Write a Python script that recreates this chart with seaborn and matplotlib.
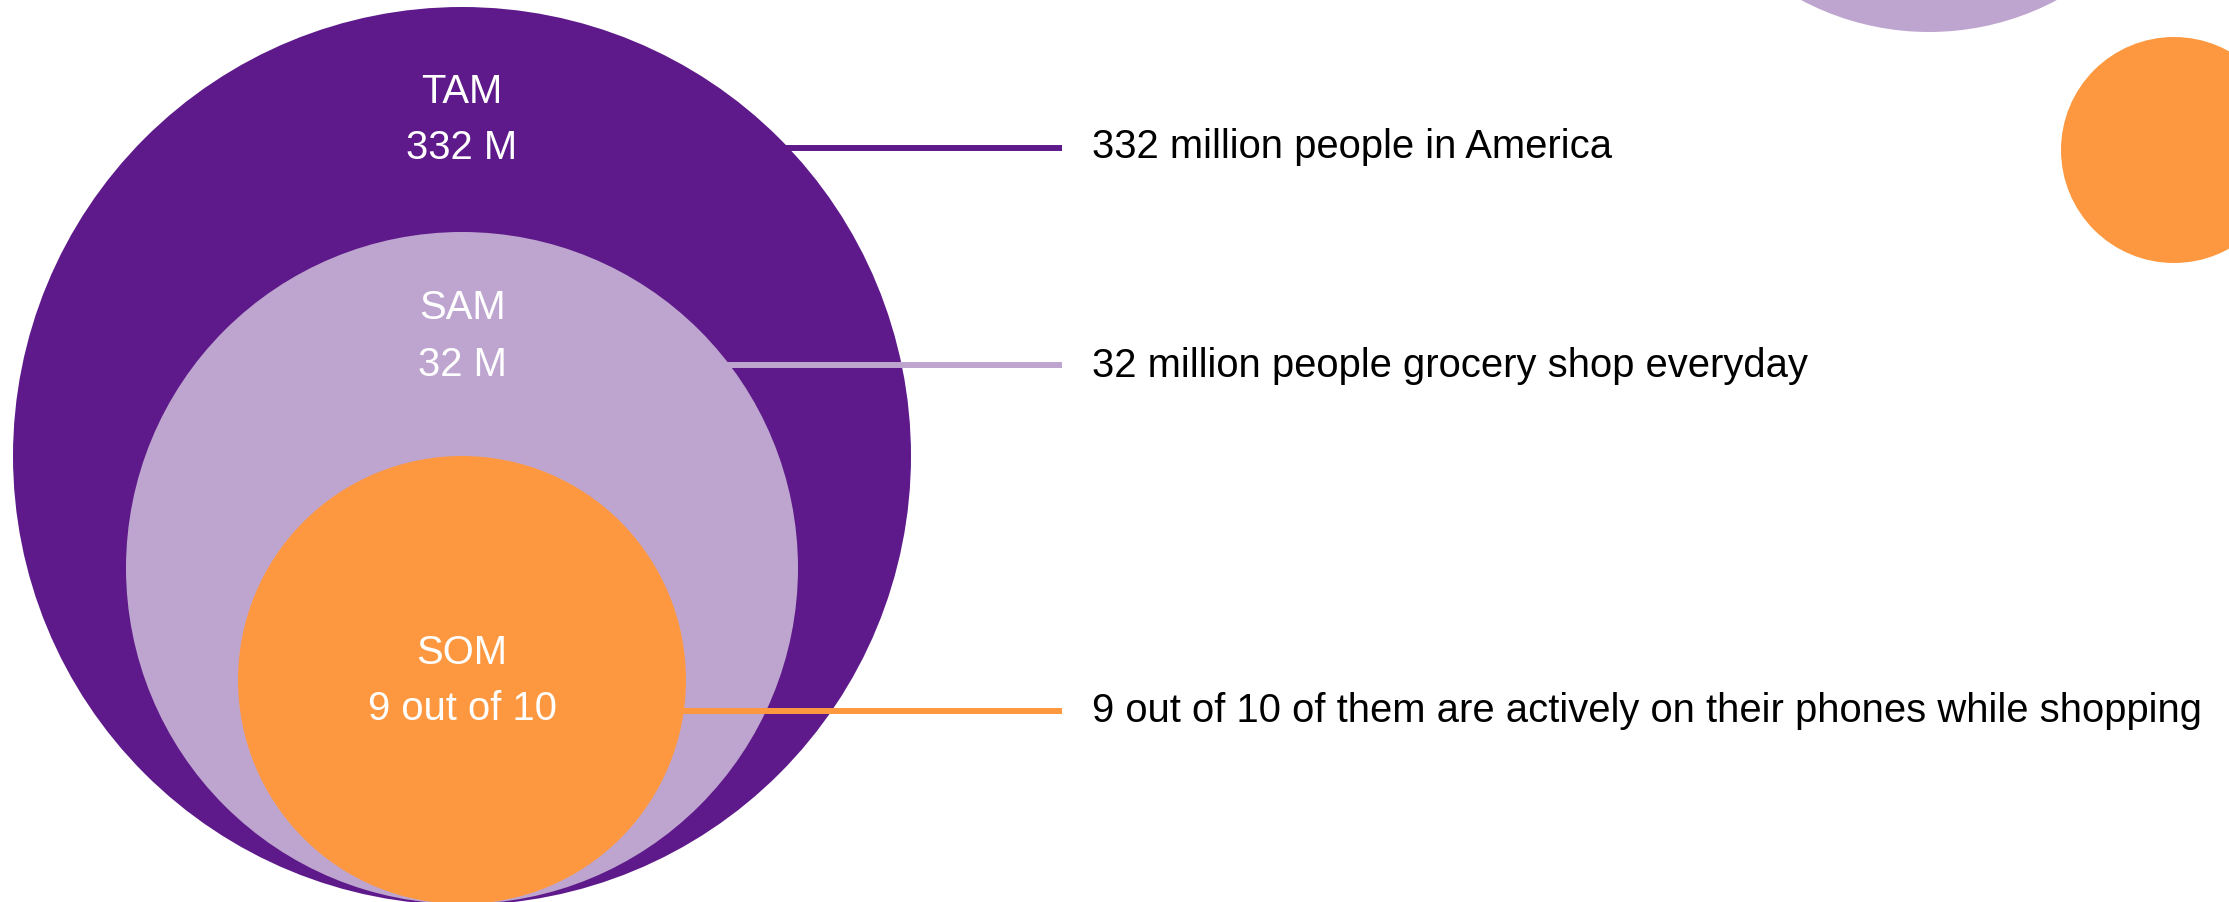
import matplotlib
matplotlib.use("Agg")
import matplotlib.pyplot as plt
from matplotlib.patches import Circle
import seaborn as sns

# ---- data ----
segments = ["TAM", "SAM", "SOM"]
segment_values = ["332 M", "32 M", "9 out of 10"]
descriptions = [
    "332 million people in America",
    "32 million people grocery shop everyday",
    "9 out of 10 of them are actively on their phones while shopping",
]

# ---- style / layout ----
colors = ["#5E1A8A", "#BEA5CF", "#FE9840"]
W, H = 2229, 902
cx = 462
circle_cy = [456, 568, 680]
circle_r = [449, 336, 224]
name_baseline = [103, 319, 664]
value_baseline = [159, 376, 720]
line_y = [148, 365, 711]
desc_baseline = [158, 377, 722]
line_end = 1062
desc_x = 1092

sns.set_theme(style="white")
plt.rcParams["font.family"] = ["Liberation Sans", "DejaVu Sans"]

fig = plt.figure(figsize=(W / 100, H / 100), dpi=100)
ax = fig.add_axes([0, 0, 1, 1])
ax.set_xlim(0, W)
ax.set_ylim(H, 0)
ax.set_axis_off()

for i, (name, val, desc) in enumerate(zip(segments, segment_values, descriptions)):
    z = 2 * i + 1
    ax.add_patch(Circle((cx, circle_cy[i]), circle_r[i], facecolor=colors[i],
                        edgecolor="none", zorder=z + 1))
    ax.plot([cx, line_end], [line_y[i], line_y[i]], color=colors[i], lw=4.3,
            solid_capstyle="butt", zorder=z)
    ax.text(cx, name_baseline[i], name, color="white", fontsize=28.8,
            ha="center", va="baseline", zorder=10)
    ax.text(cx, value_baseline[i], val, color="white", fontsize=28.8,
            ha="center", va="baseline", zorder=10)
    ax.text(desc_x, desc_baseline[i], desc, color="black", fontsize=28.8,
            ha="left", va="baseline", zorder=10)

# decorative circles top right
ax.add_patch(Circle((1929, -240), 272, facecolor=colors[1], edgecolor="none", zorder=1))
ax.add_patch(Circle((2174, 150), 113, facecolor=colors[2], edgecolor="none", zorder=1))

fig.savefig("out.png", dpi=100, facecolor="white")
